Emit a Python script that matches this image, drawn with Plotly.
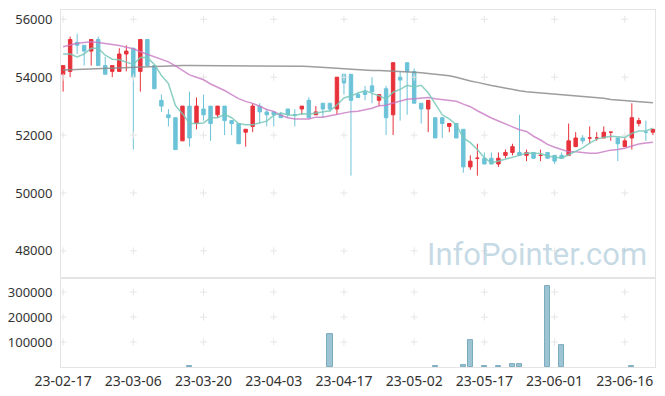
import plotly.graph_objects as go

dates = ["23-02-17","23-02-20","23-02-21","23-02-22","23-02-23","23-02-24","23-02-27","23-02-28","23-03-02","23-03-03",
         "23-03-06","23-03-07","23-03-08","23-03-09","23-03-10","23-03-13","23-03-14","23-03-15","23-03-16","23-03-17",
         "23-03-20","23-03-21","23-03-22","23-03-23","23-03-24","23-03-27","23-03-28","23-03-29","23-03-30","23-03-31",
         "23-04-03","23-04-04","23-04-05","23-04-06","23-04-07","23-04-10","23-04-11","23-04-12","23-04-13","23-04-14",
         "23-04-17","23-04-18","23-04-19","23-04-20","23-04-21","23-04-24","23-04-25","23-04-26","23-04-27","23-04-28",
         "23-05-02","23-05-03","23-05-04","23-05-08","23-05-09","23-05-10","23-05-11","23-05-12","23-05-15","23-05-16",
         "23-05-17","23-05-18","23-05-19","23-05-22","23-05-23","23-05-24","23-05-25","23-05-26","23-05-30","23-05-31",
         "23-06-01","23-06-02","23-06-05","23-06-07","23-06-08","23-06-09","23-06-12","23-06-13","23-06-14","23-06-15",
         "23-06-16","23-06-19","23-06-20","23-06-21","23-06-22"]

open_ = [54100,54200,55200,55100,54900,55300,54400,54200,54200,54800,
         55000,54200,55300,54400,53200,52700,52600,51800,53000,52400,
         52900,53000,52700,53000,52500,52400,52100,52300,53000,52800,
         52800,52700,52900,52700,52900,53200,52700,53100,53100,52900,
         54100,54100,53400,53500,53700,53200,53600,52700,54000,54500,
         54200,53100,52900,52600,52600,52300,52400,52200,50900,51200,
         51200,51200,51000,51300,51400,51400,51300,51400,51300,51400,
         51300,51300,51300,51600,51900,51900,51900,51900,52100,51900,
         51600,51900,52400,52100,52100]
high = [54400,55400,55500,55100,55300,55400,54700,54400,55000,55100,
        55000,55300,55300,54400,53400,52900,52600,53000,53500,53300,
        53400,53000,53000,53000,52500,52400,52200,53100,53100,52900,
        52800,52800,52900,52900,53000,53300,53000,53100,53100,54000,
        54100,54100,53500,53700,54000,53400,53700,54500,54200,54500,
        54300,53100,53200,52600,52600,52400,52400,52200,51300,51700,
        51400,51400,51400,51500,51700,52700,51500,51400,51500,51400,
        51300,51400,52400,52100,52000,52300,52100,52300,52100,51900,
        51900,53100,52600,52500,52200]
low = [53500,54000,54800,54400,54400,54400,54100,54000,54200,54200,
       51500,53500,54400,53600,52800,52300,51500,51800,51600,52200,
       52500,51800,52600,52000,52000,51700,51600,52100,52400,52300,
       52300,52600,52600,52300,52700,52600,52700,52600,52800,52700,
       53400,50600,53300,53200,53100,53000,52000,52000,52500,52700,
       53100,52400,52100,51900,51900,52100,51900,50700,50800,50600,
       51000,51000,50900,51200,51300,51300,51100,51200,51100,51200,
       51000,51200,51300,51600,51700,51700,51800,51900,51800,51100,
       51600,51500,52300,51800,52000]
close = [54400,55300,55100,54900,55300,54400,54100,54400,54800,54900,
         54000,55300,54400,53600,53000,52600,51500,53000,51900,53000,
         52700,52400,53000,52500,52400,51700,52200,53000,52800,52700,
         52700,52600,52700,52700,53000,52600,52800,52900,52900,54000,
         53800,53200,53300,53400,53500,53400,52600,54500,53900,54200,
         53100,52900,53200,51900,52400,52400,51900,50900,51100,51200,
         51000,51000,51200,51400,51600,51300,51400,51200,51300,51200,
         51100,51200,51800,51900,51800,51900,51900,52100,52100,51700,
         51800,52600,52500,52100,52200]

ma5 = [54800,54800,54700,54800,55000,55000,54760,54620,54600,54520,
       54440,54680,54680,54440,54060,53780,53020,52740,52400,52400,
       52420,52600,52600,52720,52600,52400,52360,52360,52420,52480,
       52680,52760,52700,52680,52740,52720,52760,52800,52840,53040,
       53280,53360,53440,53540,53440,53360,53240,53480,53580,53720,
       53660,53720,53460,53060,52700,52560,52360,51900,51740,51500,
       51220,51040,51100,51160,51240,51300,51380,51380,51360,51280,
       51240,51200,51320,51440,51560,51720,51860,51920,51960,51940,
       51920,52060,52140,52140,52240]
ma20 = [55050,55110,55170,55200,55220,55200,55170,55130,55090,55030,
        54980,54880,54790,54690,54600,54530,54390,54220,54080,53995,
        53910,53765,53660,53540,53395,53260,53165,53095,52995,52885,
        52820,52685,52600,52555,52555,52555,52620,52615,52665,52715,
        52770,52810,52825,52870,52925,53010,53030,53105,53160,53235,
        53255,53270,53295,53255,53225,53215,53170,53070,52980,52840,
        52700,52590,52485,52385,52290,52185,52125,51960,51830,51680,
        51580,51495,51425,51425,51395,51370,51370,51430,51480,51505,
        51545,51625,51690,51725,51755]
ma60 = [54250,54260,54260,54270,54280,54290,54300,54310,54310,54320,
        54330,54340,54350,54360,54370,54390,54400,54400,54400,54400,
        54400,54390,54390,54400,54400,54400,54400,54400,54400,54400,
        54400,54400,54390,54390,54380,54370,54360,54340,54330,54310,
        54290,54270,54250,54240,54230,54230,54220,54220,54210,54190,
        54170,54150,54130,54100,54070,54050,54000,53930,53870,53820,
        53760,53710,53670,53620,53570,53530,53500,53480,53460,53440,
        53420,53400,53380,53360,53330,53310,53290,53270,53230,53210,
        53190,53170,53150,53140,53120]
volume = [0,0,0,0,0,0,0,0,0,0,
          0,0,0,0,0,0,0,0,5000,0,
          0,0,0,0,0,0,0,0,0,0,
          0,0,0,0,0,0,0,0,133000,0,
          0,0,0,0,0,0,0,0,0,0,
          0,0,0,4000,0,0,0,8000,108000,0,
          5000,0,5000,0,13000,13000,0,0,0,325000,
          0,88000,0,0,0,0,0,0,0,0,
          0,5000,0,0,0]

price_ticks = [48000, 50000, 52000, 54000, 56000]
vol_ticks = [100000, 200000, 300000]
x_tick_idx = [0, 10, 20, 30, 40, 50, 60, 70, 80]

idx = list(range(len(dates)))
UP = "#e8323b"
DOWN = "#6cc3d8"
GRID = "#e4e4e4"
FONT = "Noto Sans"

fig = go.Figure()

# crosshair grid marks at tick intersections
cx, cy = [], []
for t in x_tick_idx:
    for p in price_ticks:
        cx.append(t); cy.append(p)
fig.add_trace(go.Scatter(x=cx, y=cy, mode="markers", xaxis="x", yaxis="y",
                         marker=dict(symbol="cross-thin", size=5, line=dict(color="#e6e6e6", width=1)),
                         hoverinfo="skip", showlegend=False))
vx, vy = [], []
for t in x_tick_idx:
    for v in vol_ticks:
        vx.append(t); vy.append(v)
fig.add_trace(go.Scatter(x=vx, y=vy, mode="markers", xaxis="x2", yaxis="y2",
                         marker=dict(symbol="cross-thin", size=5, line=dict(color="#e6e6e6", width=1)),
                         hoverinfo="skip", showlegend=False))

fig.add_trace(go.Candlestick(x=idx, open=open_, high=high, low=low, close=close,
                             xaxis="x", yaxis="y", whiskerwidth=0,
                             increasing=dict(line=dict(color=UP, width=1), fillcolor=UP),
                             decreasing=dict(line=dict(color=DOWN, width=1), fillcolor=DOWN),
                             showlegend=False))

fig.add_trace(go.Scatter(x=idx, y=ma60, mode="lines", xaxis="x", yaxis="y",
                         line=dict(color="rgba(140,140,140,0.85)", width=1.5), showlegend=False))
fig.add_trace(go.Scatter(x=idx, y=ma20, mode="lines", xaxis="x", yaxis="y",
                         line=dict(color="rgba(200,120,195,0.8)", width=1.5), showlegend=False))
fig.add_trace(go.Scatter(x=idx, y=ma5, mode="lines", xaxis="x", yaxis="y",
                         line=dict(color="rgba(120,200,185,0.85)", width=1.5), showlegend=False))

bar_line_w = [1 if v > 0 else 0 for v in volume]
fig.add_trace(go.Bar(x=idx, y=volume, xaxis="x2", yaxis="y2", width=0.75,
                     marker=dict(color="#9cc4d3", line=dict(color="#7aabbf", width=bar_line_w)),
                     showlegend=False))

xr = [-0.3, 84.3]
fig.update_layout(
    width=665, height=396,
    margin=dict(l=61, r=10, t=10, b=29),
    paper_bgcolor="white", plot_bgcolor="white",
    font=dict(family=FONT, size=13, color="#333333"),
    showlegend=False,
    bargap=0,
    xaxis=dict(domain=[0, 1], anchor="y", range=xr, showticklabels=False, showgrid=False,
               zeroline=False, showline=True, mirror=True, linecolor=GRID, linewidth=1,
               rangeslider=dict(visible=False), tickvals=x_tick_idx, ticks="", automargin=False),
    yaxis=dict(domain=[0.249, 1], anchor="x", range=[47060, 56320], tickvals=price_ticks,
               tickformat="d", showgrid=False, zeroline=False, showline=True, mirror=True,
               linecolor=GRID, linewidth=1, ticks="", ticklabelstandoff=5, automargin=False),
    xaxis2=dict(domain=[0, 1], anchor="y2", range=xr, tickvals=x_tick_idx,
                ticktext=[dates[i] for i in x_tick_idx], showgrid=False, zeroline=False,
                showline=True, mirror=True, linecolor=GRID, linewidth=1, ticks="",
                ticklabelstandoff=1, automargin=False, tickfont=dict(size=14)),
    yaxis2=dict(domain=[0, 0.249], anchor="x2", range=[0, 356000], tickvals=vol_ticks,
                tickformat="d", showgrid=False, zeroline=False, showline=True, mirror=True,
                linecolor=GRID, linewidth=1, ticks="", ticklabelstandoff=5, automargin=False),
    annotations=[dict(text="InfoPointer.com", xref="paper", yref="paper", x=0.99, y=0.314,
                      xanchor="right", yanchor="middle", showarrow=False,
                      font=dict(family="Roboto", size=31, color="rgba(160,194,212,0.6)"))],
)

fig.write_html("out.html", config={"displayModeBar": False},
               post_script="document.body.style.margin='0';document.body.style.overflow='hidden';")
